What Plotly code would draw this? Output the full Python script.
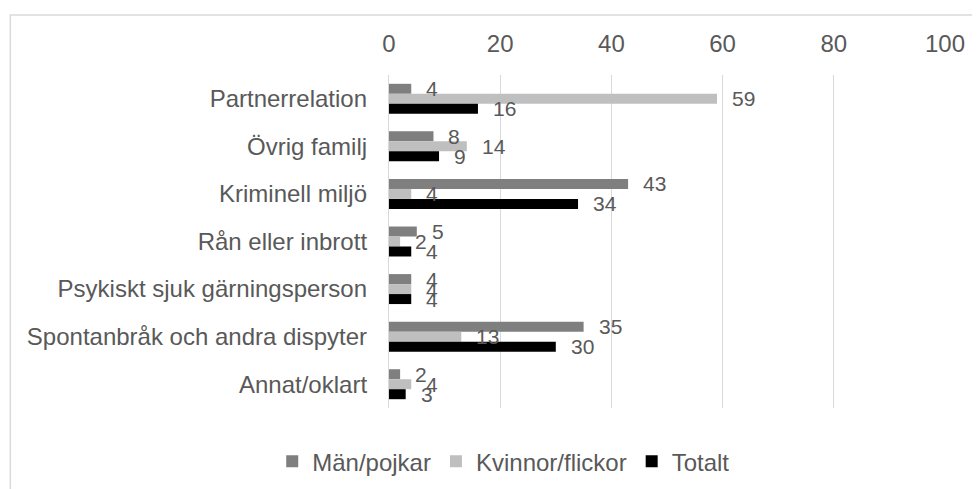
import plotly.graph_objects as go

categories = ["Partnerrelation", "Övrig familj", "Kriminell miljö", "Rån eller inbrott",
              "Psykiskt sjuk gärningsperson", "Spontanbråk och andra dispyter", "Annat/oklart"]
man = [4, 8, 43, 5, 4, 35, 2]
kvinnor = [59, 14, 4, 2, 4, 13, 4]
totalt = [16, 9, 34, 4, 4, 30, 3]
series_names = ["Män/pojkar", "Kvinnor/flickor", "Totalt"]
colors = ["#7f7f7f", "#bfbfbf", "#000000"]
x_ticks = [0, 20, 40, 60, 80, 100]

FONT = "Liberation Sans, Arial, sans-serif"
TXT = "#595959"

fig = go.Figure()
for name, vals, col in zip(series_names, [man, kvinnor, totalt], colors):
    fig.add_trace(go.Bar(y=categories, x=vals, name=name, orientation="h",
                         marker=dict(color=col, line=dict(width=0))))

shifts = [10, 0, -10]
for vals, ys in zip([man, kvinnor, totalt], shifts):
    for c, v in zip(categories, vals):
        fig.add_annotation(x=v, y=c, text=str(v), showarrow=False, xanchor="left",
                           xshift=13, yshift=ys,
                           font=dict(family=FONT, size=21, color=TXT))

# chart-area border (extends past the right and bottom edges of the view)
fig.add_shape(type="rect", xref="paper", yref="paper",
              x0=(10 - 389) / 556.5, x1=(995 - 389) / 556.5,
              y0=(408 - 500) / 333, y1=(408 - 15) / 333,
              line=dict(color="#d9d9d9", width=1.5), layer="below")

# the page body has an 8px margin, so the figure is sized/offset to compensate
fig.update_layout(
    width=972, height=481,
    margin=dict(l=381, r=35, t=67, b=81),
    barmode="group", bargap=0.37, bargroupgap=0,
    plot_bgcolor="white", paper_bgcolor="white",
    font=dict(family=FONT, size=24, color=TXT),
    legend=dict(orientation="h", xref="container", yref="container",
                x=0.51, xanchor="center", y=0.057, yanchor="middle",
                font=dict(size=24, color=TXT), traceorder="normal",
                itemwidth=30),
    xaxis=dict(side="top", range=[0, 100], tickvals=x_ticks, showgrid=True,
               gridcolor="#d9d9d9", gridwidth=1.3, zeroline=False, showline=False,
               ticks="", ticklabelstandoff=17, fixedrange=True),
    yaxis=dict(autorange="reversed", showline=True, linecolor="#d9d9d9", linewidth=1.3,
               ticks="", ticklabelstandoff=16, showgrid=False),
)

fig.write_html("out.html")
